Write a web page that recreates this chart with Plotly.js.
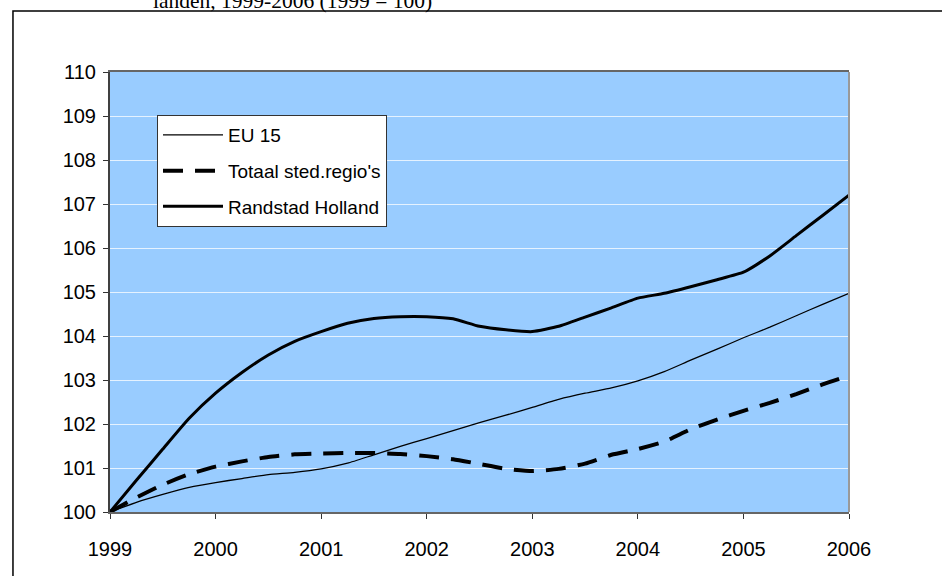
<!DOCTYPE html>
<html>
<head>
<meta charset="utf-8">
<script src="https://cdn.plot.ly/plotly-3.0.1.min.js"></script>
<style>html,body{margin:0;padding:0;background:#fff;}#chart{width:942px;height:576px;}</style>
</head>
<body>
<div id="chart"></div>
<script>
// Quarterly positions (years)
const quarters = [1999, 1999.25, 1999.5, 1999.75, 2000, 2000.25, 2000.5, 2000.75,
  2001, 2001.25, 2001.5, 2001.75, 2002, 2002.25, 2002.5, 2002.75,
  2003, 2003.25, 2003.5, 2003.75, 2004, 2004.25, 2004.5, 2004.75,
  2005, 2005.25, 2005.5, 2005.75, 2006];

const yearTicks = [1999, 2000, 2001, 2002, 2003, 2004, 2005, 2006];
const yearLabels = ["1999", "2000", "2001", "2002", "2003", "2004", "2005", "2006"];

const seriesNames = ["EU 15", "Totaal sted.regio's", "Randstad Holland"];

const eu15 = [100.00, 100.22, 100.40, 100.56, 100.67, 100.76, 100.85, 100.90,
  100.98, 101.11, 101.30, 101.49, 101.67, 101.85, 102.03, 102.20,
  102.38, 102.56, 102.70, 102.82, 102.98, 103.19, 103.45, 103.70,
  103.96, 104.20, 104.46, 104.72, 104.97];

const totaalSted = [100.00, 100.33, 100.62, 100.86, 101.03, 101.15, 101.25, 101.31,
  101.33, 101.34, 101.34, 101.32, 101.27, 101.20, 101.09, 100.98,
  100.93, 100.98, 101.10, 101.30, 101.43, 101.60, 101.88, 102.10,
  102.30, 102.48, 102.68, 102.90, 103.10];

const randstad = [100.00, 100.72, 101.43, 102.13, 102.70, 103.17, 103.57, 103.88,
  104.10, 104.29, 104.40, 104.44, 104.44, 104.39, 104.22, 104.14,
  104.10, 104.22, 104.43, 104.64, 104.86, 104.97, 105.12, 105.28,
  105.45, 105.82, 106.28, 106.74, 107.20];

const titleText = "landen, 1999-2006 (1999 = 100)";

const FONT = "Liberation Sans, Arial, sans-serif";

const traces = [
  {x: quarters, y: eu15, name: seriesNames[0], mode: "lines", legendgroup: "a",
   line: {color: "#000", width: 1.3, shape: "spline", smoothing: 0.5}},
  {x: quarters, y: totaalSted, name: seriesNames[1], mode: "lines", legendgroup: "b",
   line: {color: "#000", width: 4, dash: "20px,12px", shape: "spline", smoothing: 0.5}},
  {x: quarters, y: randstad, name: seriesNames[2], mode: "lines", legendgroup: "c",
   line: {color: "#000", width: 3, shape: "spline", smoothing: 0.5}}
];

const layout = {
  width: 942, height: 576,
  margin: {l: 110, r: 93, t: 72, b: 64, pad: 0},
  paper_bgcolor: "#ffffff",
  plot_bgcolor: "#99CCFF",
  font: {family: FONT, size: 20, color: "#000"},
  showlegend: true,
  legend: {
    x: 0.0636, y: 0.902, xanchor: "left", yanchor: "top",
    bgcolor: "#ffffff", bordercolor: "#333333", borderwidth: 1,
    font: {family: FONT, size: 19, color: "#000"},
    tracegroupgap: 8, itemwidth: 60, traceorder: "grouped"
  },
  xaxis: {
    range: [1999, 2006], tickmode: "array", tickvals: yearTicks, ticktext: yearLabels,
    showgrid: false, zeroline: false,
    showline: true, linecolor: "#666666", linewidth: 2, mirror: true,
    ticks: "outside", ticklen: 5, tickcolor: "#333333", tickwidth: 1,
    ticklabelstandoff: 13,
    tickfont: {family: FONT, size: 20, color: "#000"}
  },
  yaxis: {
    range: [100, 110], dtick: 1, tick0: 100,
    showgrid: true, gridcolor: "rgba(255,255,255,0.75)", gridwidth: 1,
    zeroline: false,
    showline: true, linecolor: "#404040", linewidth: 2,
    ticks: "outside", ticklen: 5, tickcolor: "#333333", tickwidth: 1,
    ticklabelstandoff: 3,
    tickfont: {family: FONT, size: 20, color: "#000"}
  },
  shapes: [
    {type: "line", xref: "paper", yref: "paper", x0: 1, x1: 1, y0: 0, y1: 1,
     line: {color: "#999999", width: 2}, layer: "above"},
    {type: "rect", xref: "paper", yref: "paper",
     x0: -0.1313, x1: 1.3, y0: -0.2, y1: 1.1386,
     line: {color: "#000000", width: 1.5}, fillcolor: "rgba(0,0,0,0)", layer: "below"}
  ],
  annotations: [
    {text: titleText, xref: "paper", yref: "paper", x: 0.2476, y: 1.162,
     xanchor: "center", yanchor: "middle", showarrow: false,
     font: {family: "Liberation Serif, Times New Roman, serif", size: 21.5, color: "#000"}}
  ]
};

Plotly.newPlot("chart", traces, layout, {displayModeBar: false, staticPlot: true});
</script>
</body>
</html>
